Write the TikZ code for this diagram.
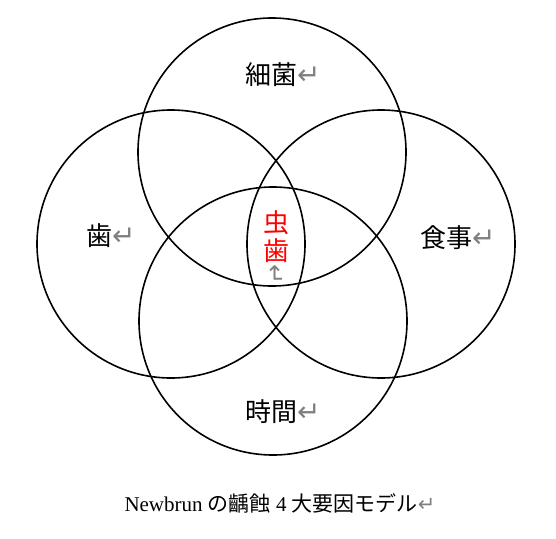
\documentclass[tikz,border=0pt]{standalone}
\usepackage{fontspec}
\setmainfont{Liberation Serif}
\newfontfamily\jpfont{Noto Sans CJK JP}
\newfontfamily\markfont{DejaVu Sans}
\usetikzlibrary{positioning}
\newcommand{\retmark}[1][28]{{\markfont\fontsize{#1}{#1}\selectfont\color{gray}↵}}

\begin{document}
\begin{tikzpicture}[x=1pt, y=-1pt,
			ring/.style={draw, circle, line width=1.6pt, minimum size=268pt, inner sep=0pt},
			lbl/.style={inner sep=0pt, font=\jpfont\fontsize{26}{28}\selectfont}]
			\useasboundingbox (0,0) rectangle (556,538);
			
			\node[ring](bact) at (272,152) {};
			\node[ring](tooth) at (171,244) {};
			\node[ring](diet) at (381,244) {};
			\node[ring](time) at (273,321) {};
			
			\node[lbl, anchor=west](bactlbl) at (245,75) {細菌\retmark};
			\node[lbl, anchor=west](toothlbl) at (86,236) {歯\retmark};
			\node[lbl, anchor=west](dietlbl) at (420,238) {食事\retmark};
			\node[lbl, anchor=west](timelbl) at (245,412) {時間\retmark};
			
			\node[lbl, align=center, text=red](caries) at (276,237) {虫\\歯};
			\node[inner sep=0pt, rotate=-90](cariesmark) at (275,275) {\retmark[24]};
			
			%\node[lbl] at (276,300) {};
			\node[inner sep=0pt, font=\fontsize{21}{23}\selectfont](caption) at (280,503) {Newbrun {\jpfont の齲蝕} 4 {\jpfont 大要因モデル}\retmark[21]};
		\end{tikzpicture}
\end{document}
